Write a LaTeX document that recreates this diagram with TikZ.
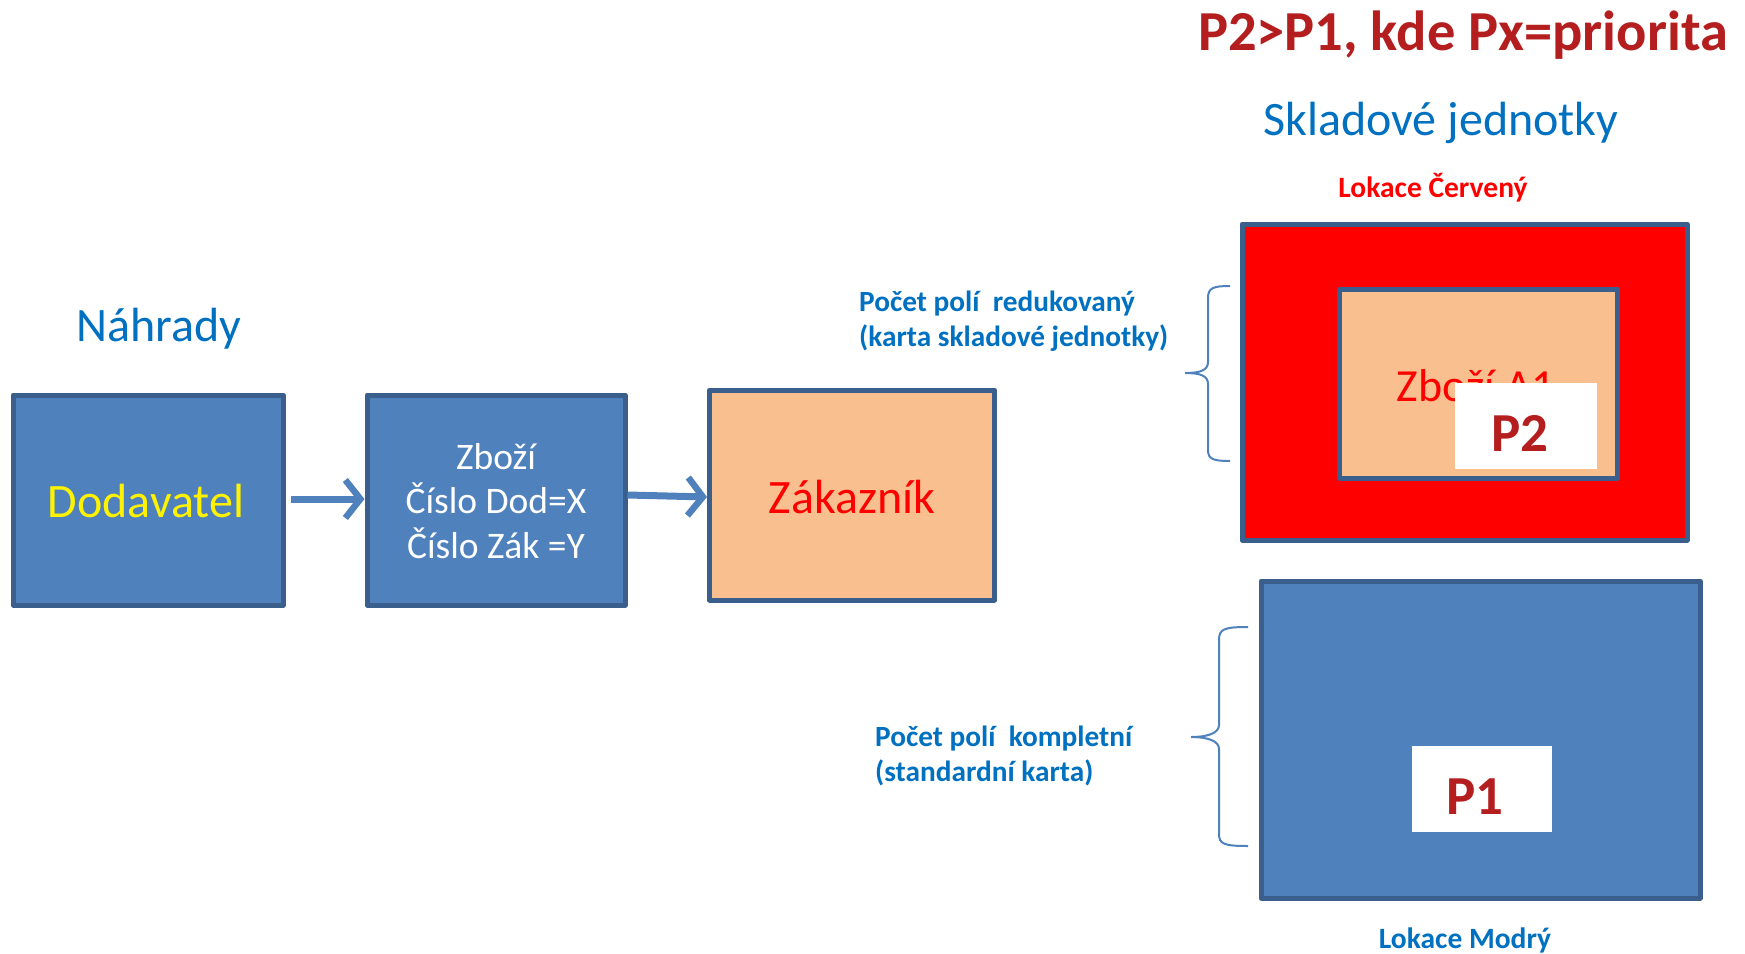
\documentclass[tikz,border=0pt]{standalone}
\usepackage{fontspec}
\setmainfont{Carlito}
\usetikzlibrary{arrows.meta}
\definecolor{boxblue}{HTML}{4F81BD}
\definecolor{edgeblue}{HTML}{3B5F8C}
\definecolor{peach}{HTML}{F9BF8F}
\definecolor{txtblue}{HTML}{0070C0}
\definecolor{prio}{HTML}{B41E1E}
\tikzset{
  bx/.style={draw=edgeblue, line width=5pt, inner sep=0pt, line join=round},
  whitebx/.style={fill=white, inner sep=0pt},
  conn/.style={draw=boxblue, line width=7pt, -{Straight Barb[length=15pt, width=38pt, line width=6.5pt]}},
  brace/.style={draw=boxblue, line width=2pt},
}
\begin{document}
\begin{tikzpicture}[x=1pt, y=-1pt]
\useasboundingbox (0,0) rectangle (1745,953);
% left chain
\node[bx, fill=boxblue, minimum width=270pt, minimum height=210pt] (dod) at (148,500) {};
\node[text=yellow, font=\fontsize{48}{54}\selectfont] (dodt) at (146,501) {Dodavatel};
\node[bx, fill=boxblue, minimum width=258pt, minimum height=210pt] (zb) at (496,500) {};
\node[text=white, align=center, font=\fontsize{37.5}{44.5}\selectfont] (zbt) at (496,501) {Zboží\\Číslo Dod=X\\Číslo Zák =Y};
\node[bx, fill=peach, minimum width=285pt, minimum height=210pt] (zak) at (852,495) {};
\node[text=red, font=\fontsize{48}{54}\selectfont] (zakt) at (852,497) {Zákazník};
\draw[conn, shorten <=5pt, shorten >=0pt] (dod.east |- 0,499) coordinate (a1s) -- (zb.west |- 0,499) coordinate (a1e);
\draw[conn, shorten <=0pt, shorten >=0pt] (zb.east |- 0,495) coordinate (a2s) -- (zak.west |- 0,497) coordinate (a2e);
\node[text=txtblue, font=\fontsize{48}{54}\selectfont] (nah) at (159,329) {Náhrady};
% right side
\node[text=prio, font=\bfseries\fontsize{56.5}{62}\selectfont] (title) at (1463,35) {P2>P1, kde Px=priorita};
\node[text=txtblue, font=\fontsize{48}{54}\selectfont] (skl) at (1441,123) {Skladové jednotky};
\node[text=red, font=\bfseries\fontsize{29.5}{35}\selectfont] (lokc) at (1433,188) {Lokace Červený};
\node[bx, fill=red, minimum width=445pt, minimum height=316pt] (redb) at (1464.5,382) {};
\node[bx, fill=peach, minimum width=278pt, minimum height=189pt] (inner) at (1478,383.5) {};
\node[text=red, font=\fontsize{46}{52}\selectfont] (zba) at (1476,386) {Zboží A1};
\node[whitebx, minimum width=142pt, minimum height=86pt] (p2b) at (1526,426) {};
\node[text=prio, font=\bfseries\fontsize{55}{60}\selectfont] (p2) at (1520,433) {P2};
\node[bx, fill=boxblue, minimum width=439pt, minimum height=317pt] (blueb) at (1480.5,739.5) {};
\node[whitebx, minimum width=140pt, minimum height=86pt] (p1b) at (1482,789) {};
\node[text=prio, font=\bfseries\fontsize{55}{60}\selectfont] (p1) at (1475,797) {P1};
\node[text=txtblue, font=\bfseries\fontsize{29.5}{35}\selectfont] (lokm) at (1465,940) {Lokace Modrý};
% labels
\node[anchor=west, align=left, text=txtblue, font=\bfseries\fontsize{29.3}{34.5}\selectfont, inner sep=0pt] (lab1) at (859,321) {Počet polí\ \ redukovaný\\(karta skladové jednotky)};
\node[anchor=west, align=left, text=txtblue, font=\bfseries\fontsize{29.3}{34.5}\selectfont, inner sep=0pt] (lab2) at (875,756) {Počet polí\ \ kompletní\\(standardní karta)};
% braces
\draw[brace] (1230,286) .. controls (1213,286) and (1208,288) .. (1208,298) -- (1208,362) .. controls (1208,370) and (1201,373) .. (1185,373) .. controls (1201,373) and (1208,376) .. (1208,384) -- (1208,450) .. controls (1208,459) and (1213,461) .. (1230,461);
\draw[brace] (1248,627) .. controls (1224,627) and (1219,629) .. (1219,640) -- (1219,725) .. controls (1219,733) and (1208,737) .. (1191,737) .. controls (1208,737) and (1219,741) .. (1219,749) -- (1219,834) .. controls (1219,844) and (1224,846) .. (1248,846);
\end{tikzpicture}
\end{document}
